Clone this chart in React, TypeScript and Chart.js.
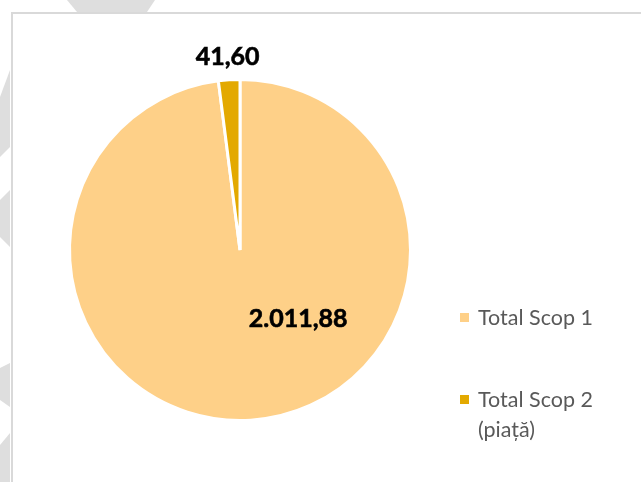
import React, { useEffect, useRef } from "react";
import { Chart, registerables } from "chart.js";

Chart.register(...registerables);

const categories = ["Total Scop 1", "Total Scop 2 (piață)"];
const legendLines = [["Total Scop 1"], ["Total Scop 2", "(piață)"]];
const values = [2011.88, 41.6];
const valueLabels = ["2.011,88", "41,60"];
const colors = ["#FED088", "#E3A900"];

const W = 641;
const H = 482;

// label placement (style only): angle clockwise from top (deg) or null for slice middle, radius factor / extra px
const labelPlacement = [
  { angleFromTop: 140, radiusFactor: 0.53, extra: 0 },
  { angleFromTop: null as number | null, radiusFactor: 1, extra: 23 },
];

const labelsPlugin = {
  id: "valueLabels",
  afterDatasetsDraw(chart: any) {
    const ctx = chart.ctx;
    const meta = chart.getDatasetMeta(0);
    ctx.save();
    ctx.font = "bold 25px Lato, 'DejaVu Sans', sans-serif";
    ctx.fillStyle = "#000000";
    ctx.textAlign = "center";
    ctx.textBaseline = "middle";
    meta.data.forEach((arc: any, i: number) => {
      const p = labelPlacement[i];
      const { x, y, startAngle, endAngle, outerRadius } = arc.getProps(
        ["x", "y", "startAngle", "endAngle", "outerRadius"],
        true
      );
      const ang =
        p.angleFromTop === null
          ? (startAngle + endAngle) / 2
          : (p.angleFromTop * Math.PI) / 180 - Math.PI / 2;
      const r = outerRadius * p.radiusFactor + p.extra;
      const tx = x + Math.cos(ang) * r;
      const ty = y + Math.sin(ang) * r;
      ctx.lineWidth = 0.6;
      ctx.strokeStyle = "#000000";
      ctx.strokeText(valueLabels[i], tx, ty);
      ctx.fillText(valueLabels[i], tx, ty);
    });
    ctx.restore();
  },
};

const legendPlugin = {
  id: "customLegend",
  afterDraw(chart: any) {
    const ctx = chart.ctx;
    const ds = chart.data.datasets[0];
    const boxX = 460;
    const textX = 478;
    const startY = 318;
    const itemGap = 82;
    const lineH = 30;
    ctx.save();
    ctx.font = "21.5px Lato, 'DejaVu Sans', sans-serif";
    ctx.textAlign = "left";
    ctx.textBaseline = "middle";
    let y = startY;
    legendLines.forEach((lines, i) => {
      ctx.fillStyle = ds.backgroundColor[i];
      ctx.fillRect(boxX, y - 5, 9, 9);
      ctx.fillStyle = "#595959";
      lines.forEach((t, j) => {
        ctx.fillText(t, textX, y + j * lineH);
      });
      y += itemGap;
    });
    ctx.restore();
  },
};

export default function App() {
  const ref = useRef<HTMLCanvasElement | null>(null);
  useEffect(() => {
    if (!ref.current) return;
    const chart = new Chart(ref.current, {
      type: "pie",
      data: {
        labels: categories,
        datasets: [
          {
            data: values,
            backgroundColor: colors,
            borderColor: "#FFFFFF",
            borderWidth: 3,
          },
        ],
      },
      options: {
        animation: false,
        responsive: false,
        maintainAspectRatio: false,
        layout: { padding: { left: 68, right: 229, top: 78, bottom: 60 } },
        plugins: {
          legend: { display: false },
          tooltip: { enabled: false },
        },
      },
      plugins: [labelsPlugin, legendPlugin],
    });
    return () => chart.destroy();
  }, []);

  return (
    <div
      style={{
        position: "fixed",
        left: 0,
        top: 0,
        width: W,
        height: H,
        background: "#FFFFFF",
        overflow: "hidden",
      }}
    >
      <svg
        width={W}
        height={H}
        style={{ position: "absolute", left: 0, top: 0 }}
      >
        <polygon points="67,0 155,0 147,12 77,12" fill="#DEDEDE" />
        <polygon points="10,70 10,147 0,157 0,97" fill="#DEDEDE" />
        <polygon points="10,190 10,247 0,237 0,200" fill="#DEDEDE" />
        <polygon points="10,363 10,407 0,400 0,368" fill="#DEDEDE" />
        <polygon points="10,433 10,482 0,482 0,445" fill="#DEDEDE" />
      </svg>
      <div
        style={{
          position: "absolute",
          left: 11,
          top: 12,
          width: W,
          height: H,
          borderTop: "2px solid #D9D9D9",
          borderLeft: "2px solid #D9D9D9",
          background: "#FFFFFF",
        }}
      />
      <canvas
        ref={ref}
        width={W}
        height={H}
        style={{ position: "absolute", left: 0, top: 0, width: W, height: H }}
      />
    </div>
  );
}
